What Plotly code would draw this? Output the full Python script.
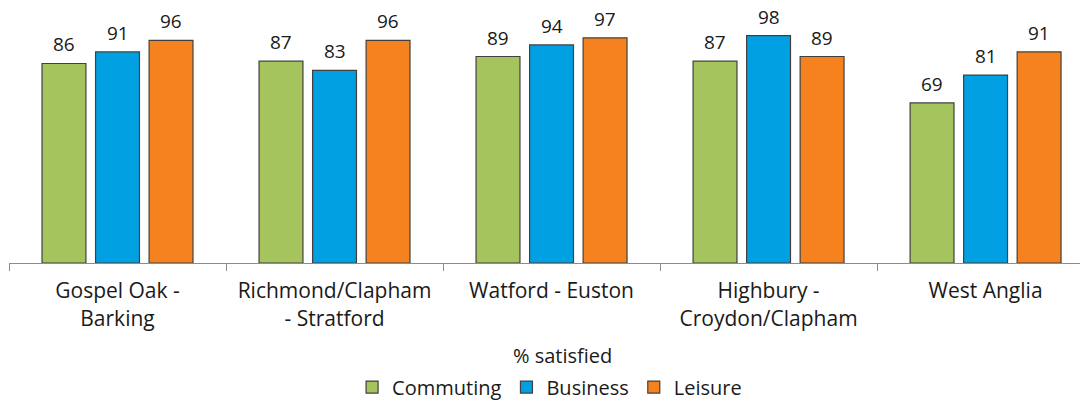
import plotly.graph_objects as go

categories = ["Gospel Oak -<br>Barking", "Richmond/Clapham<br>- Stratford", "Watford - Euston",
              "Highbury -<br>Croydon/Clapham", "West Anglia"]
series_names = ["Commuting", "Business", "Leisure"]
commuting = [86, 87, 89, 87, 69]
business = [91, 83, 94, 98, 81]
leisure = [96, 96, 97, 89, 91]
series_values = [commuting, business, leisure]
colors = ["#A5C45E", "#00A0E2", "#F5821F"]

# page has an 8px body margin; figure sized/margined to compensate
W, H = 1080, 395
ml, mt, mb = 1, 23, 140
bargap = 0.26
bargroupgap = 0.18

fig = go.Figure()
for name, vals, col in zip(series_names, series_values, colors):
    fig.add_trace(go.Bar(
        name=name, x=categories, y=vals,
        marker=dict(color=col, line=dict(color="#404040", width=1.2)),
    ))

# value labels above bars
slot = (1 - bargap) / len(series_names)
annotations = []
for j, vals in enumerate(series_values):
    for i, v in enumerate(vals):
        annotations.append(dict(
            x=i + (j - 1) * slot, y=v, xref="x", yref="y",
            text=str(v), showarrow=False, yanchor="bottom", yshift=5, borderpad=0,
            font=dict(family="Open Sans", size=19, color="#1a1a1a"),
        ))
annotations.append(dict(
    x=0.513, y=-0.397, xref="paper", yref="paper", text="% satisfied",
    showarrow=False, xanchor="center", yanchor="middle",
    font=dict(family="Open Sans", size=20, color="#1a1a1a"),
))

fig.update_layout(
    width=W, height=H,
    margin=dict(l=ml, r=0, t=mt, b=mb, autoexpand=False),
    paper_bgcolor="white", plot_bgcolor="white",
    barmode="group", bargap=bargap, bargroupgap=bargroupgap,
    font=dict(family="Open Sans", size=20, color="#1a1a1a"),
    xaxis=dict(
        type="category", range=[-0.5, 4.472],
        showline=True, linecolor="#8c8c8c", linewidth=1.3,
        ticks="outside", tickson="boundaries", ticklen=7, tickcolor="#8c8c8c",
        ticklabelstandoff=9,
        tickfont=dict(family="Open Sans", size=21, color="#1a1a1a"),
        showgrid=False, zeroline=False, automargin=False,
    ),
    yaxis=dict(range=[0, 100], visible=False, showgrid=False, zeroline=False),
    showlegend=True,
    legend=dict(
        orientation="h", x=0.501, xanchor="center", y=-0.535, yanchor="middle",
        font=dict(family="Open Sans", size=20, color="#1a1a1a"),
        itemclick=False, traceorder="normal", itemwidth=30,
    ),
    annotations=annotations,
)

fig.write_html("out.html")
